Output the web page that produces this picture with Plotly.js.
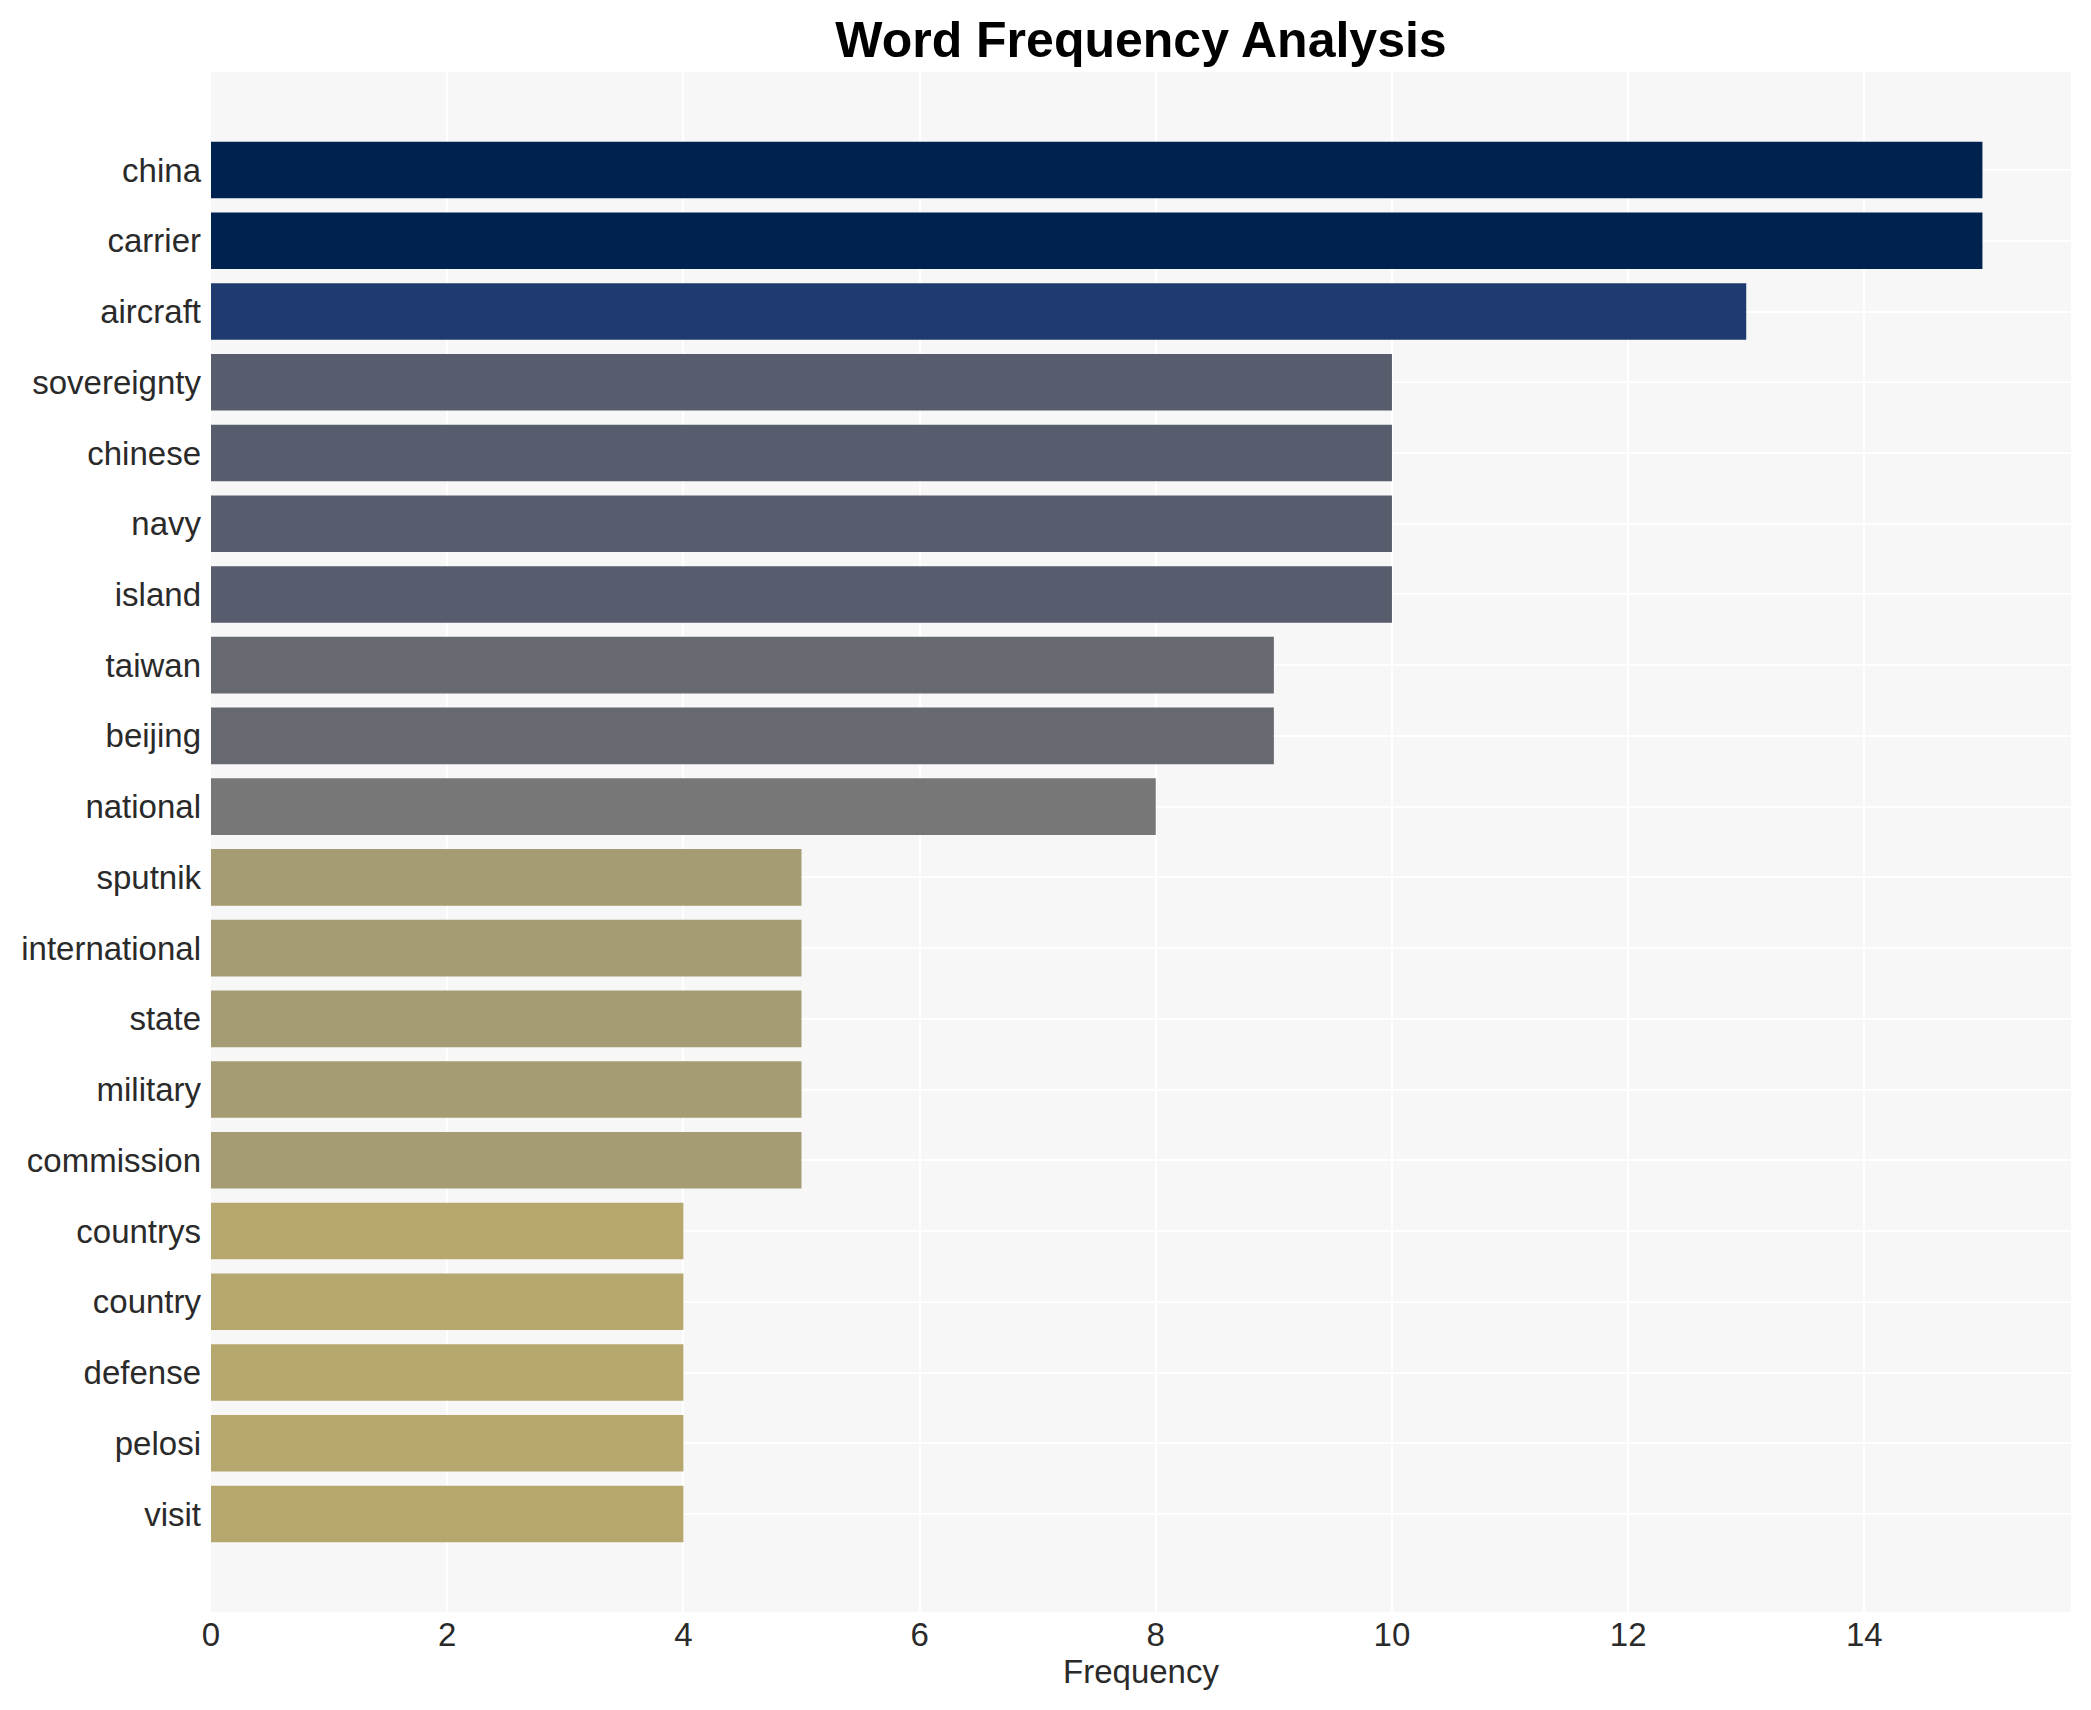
<!DOCTYPE html>
<html>
<head>
<meta charset="utf-8">
<script src="https://cdn.plot.ly/plotly-3.0.1.min.js"></script>
<style>html,body{margin:0;padding:0;background:#fff;}#chart{width:2091px;height:1710px;}</style>
</head>
<body>
<div id="chart"></div>
<script>
const words = ["china","carrier","aircraft","sovereignty","chinese","navy","island","taiwan","beijing","national","sputnik","international","state","military","commission","countrys","country","defense","pelosi","visit"];
const frequencies = [15,15,13,10,10,10,10,9,9,8,5,5,5,5,5,4,4,4,4,4];

// colour for each frequency level (cividis-like shading, darker = more frequent)
const levelColors = {15: '#00224e', 13: '#1f3a6f', 10: '#585d6d', 9: '#676970', 8: '#777777', 5: '#a59c73', 4: '#b6a76f'};

const trace = {
  type: 'bar',
  orientation: 'h',
  x: frequencies,
  y: words,
  marker: {
    color: frequencies.map(f => levelColors[f]),
    line: {width: 0}
  },
  hoverinfo: 'x+y'
};

const layout = {
  width: 2091,
  height: 1710,
  paper_bgcolor: '#ffffff',
  plot_bgcolor: '#f7f7f7',
  margin: {l: 211, r: 20, t: 72, b: 98, pad: 0},
  bargap: 0.2,
  showlegend: false,
  font: {family: 'Liberation Sans, Arial, sans-serif', size: 33, color: '#2a2a2a'},
  title: {
    text: '<b>Word Frequency Analysis</b>',
    x: 0.5, xref: 'paper', xanchor: 'center',
    y: 0.977, yref: 'container', yanchor: 'middle',
    font: {family: 'Liberation Sans, Arial, sans-serif', size: 50, color: '#000000'}
  },
  xaxis: {
    title: {text: 'Frequency', font: {size: 33, color: '#2a2a2a'}, standoff: 7},
    range: [0, 15.75],
    dtick: 2,
    showgrid: true,
    gridcolor: '#ffffff',
    gridwidth: 2,
    zeroline: false,
    showline: false,
    ticks: '',
    tickfont: {size: 33, color: '#2a2a2a'}
  },
  yaxis: {
    type: 'category',
    categoryorder: 'array',
    categoryarray: words,
    range: [20.386, -1.386],
    showgrid: true,
    gridcolor: '#ffffff',
    gridwidth: 2,
    zeroline: false,
    showline: false,
    ticks: '',
    ticklabelstandoff: 9,
    tickfont: {size: 33, color: '#2a2a2a'}
  }
};

Plotly.newPlot('chart', [trace], layout, {displayModeBar: false, staticPlot: true});
</script>
</body>
</html>
